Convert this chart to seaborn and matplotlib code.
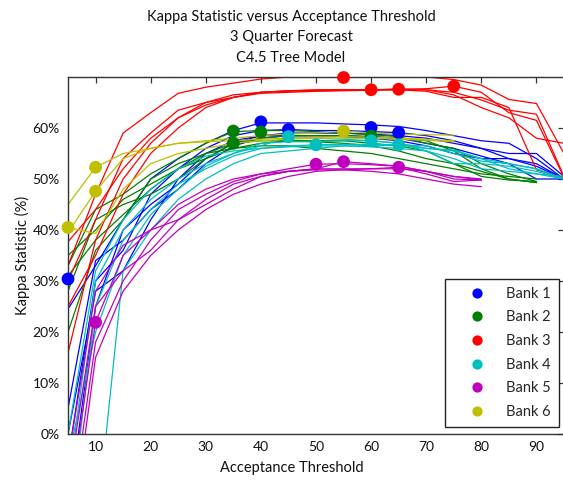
import numpy as np
import pandas as pd
import matplotlib
matplotlib.use("Agg")
import matplotlib.pyplot as plt
import seaborn as sns
from matplotlib.ticker import FuncFormatter, MultipleLocator

nan = np.nan
thresholds = [5, 10, 15, 20, 25, 30, 35, 40, 45, 50, 55, 60, 65, 70, 75, 80, 85, 90, 95]
bank_names = ["Bank 1", "Bank 2", "Bank 3", "Bank 4", "Bank 5", "Bank 6"]
bank_colors = ["#0000ff", "#008000", "#ff0000", "#00bfbf", "#bf00bf", "#bfbf00"]

bank1_runs = [
    [24.5, 33, 42, 50, 54, 57, 59.5, 61, 61, 61, 60.8, 60.6, 60.3, 59.5, 58.5, 57.5, 57, 54, 50],
    [-5, 30, 36, 47, 52, 56, 58.5, 59.5, 59.7, 59.5, 59.5, 59.3, 59.1, 58.5, 57.5, 56, 55, 55, 50.5],
    [-15, 25, 40, 45, 49, 54, 57, 58.5, 59, 59, 59, 58.8, 58.5, 58, 57, 56, 54, 53, 50],
    [0, 28, 32, 42, 50, 55, 57.5, 58.5, 58.5, 58.5, 58.5, 58.3, 58, 57, 56, 54.5, 53, 50, 50],
    [5, 34, 38, 44, 48, 53, 56.5, 58, 58.5, 58.5, 58.3, 58, 57.5, 56.5, 55, 54, 54, 52.5, 50],
]
bank2_runs = [
    [33, 44, 47, 51, 54, 57, 59.3, 59.5, 59.5, 59.3, 59, 58.7, 58.3, 57, 56, 53, 51, 49.5, nan],
    [35, 40, 46, 49, 52, 55, 57, 58, 58.5, 58.5, 58.5, 58.3, 58, 57.5, 55.5, 52, 50, 49.3, nan],
    [31, 38, 43, 48, 52, 54, 57, 57.5, 57.5, 57.3, 57, 56.5, 55.5, 54, 53, 51.5, 50, 49.3, nan],
    [28, 42, 45, 47, 50, 54, 56, 57, 57.5, 57.5, 57.5, 57, 56.5, 55.5, 53, 50.5, 49.8, 49.5, nan],
    [20, 36, 42, 50, 53, 55, 56, 56.5, 56.5, 56, 55.5, 55, 54, 53, 52, 51, 50.5, 50, nan],
]
bank3_runs = [
    [33, 47, 59, 63, 66.8, 68, 68.8, 69.6, 70, 70.2, 70.2, 70.2, 70.1, 70, 69.5, 68.4, 65.6, 64.8, 55],
    [15.9, 38, 50, 57, 62, 64.5, 66, 67, 67.3, 67.5, 67.5, 67.5, 67.6, 67.5, 66.5, 64, 62, 58, 57],
    [30, 42, 54, 59, 63.5, 65, 66.5, 67, 67.3, 67.4, 67.5, 67.5, 67.6, 67.7, 68.2, 67, 63, 61.5, 50.3],
    [25, 35, 47, 55, 60, 64, 66, 67, 67.2, 67.3, 67.4, 67.5, 67.5, 67.2, 66, 66, 64, 51.8, 50.2],
    [37.7, 44, 52, 58, 62, 65, 66, 66.8, 67, 67.2, 67.3, 67.4, 67.5, 67.5, 67, 65.5, 63.5, 62.7, 50.5],
]
bank4_runs = [
    [-10, 30, 40, 46, 50, 53, 55, 56.5, 58.3, 58, 57.8, 57.5, 57, 56, 55.5, 54, 53, 52, 50],
    [-20, 25, 38, 44, 49, 52, 54.5, 56, 56.5, 56.7, 56.8, 56.8, 56.7, 56, 55.7, 54, 52, 51, 50],
    [-5, 20, 35, 43, 48, 52.5, 55, 57, 57.3, 57.3, 57.5, 57.5, 57, 55.5, 53, 53, 52.5, 51.5, 50],
    [-40, -20, 32, 40, 46, 50, 53, 55, 55.5, 56, 56.5, 56.5, 56.7, 56.5, 55, 53.5, 53, 52, 50],
    [0, 32, 42, 48, 52, 54.5, 55.5, 56, 56.3, 56.5, 56.5, 56.3, 56, 55.5, 54, 52, 51.5, 51, 50.5],
]
bank5_runs = [
    [-15, 21.9, 35, 40, 45, 48, 50, 51, 52, 52.9, 53, 52.8, 52.5, 51.5, 50.5, 50, nan, nan, nan],
    [-20, 18, 30, 38, 44, 47, 49.5, 51, 51.5, 52, 53.4, 53, 52.5, 51.5, 50, 49.8, nan, nan, nan],
    [-10, 25, 32, 36, 42, 46, 49, 50.5, 51.5, 52, 52, 52, 52.3, 51, 49.5, 49.8, nan, nan, nan],
    [-25, 15, 28, 35, 40, 44, 47, 49, 50.5, 51.5, 51.8, 52, 52, 51.5, 50.5, 49.8, nan, nan, nan],
    [-5, 28, 37, 40, 42, 45, 48, 50.5, 51.5, 51.8, 51.8, 51.5, 51, 50, 49, 48.5, nan, nan, nan],
]
bank6_runs = [
    [45, 52.3, 55, 56, 57, 57.5, 58, 58.5, 58.8, 59, 59.4, 59, 58.8, 58.7, 58.6, nan, nan, nan, nan],
    [39.5, 47.6, 54, 56, 57, 57.3, 57.5, 57.8, 58, 58.2, 58.3, 58.2, 58, 57.8, 57.5, nan, nan, nan, nan],
    [40.5, 39.3, 48, 53, 55, 56, 57, 57.5, 57.8, 58, 58, 58, 57.8, 57.6, 57.3, nan, nan, nan, nan],
]

dot_x = {
    "Bank 1": [5, 40, 45, 60, 65],
    "Bank 2": [35, 35, 40, 60],
    "Bank 3": [55, 60, 65, 75],
    "Bank 4": [45, 50, 60, 65],
    "Bank 5": [10, 50, 55, 65],
    "Bank 6": [5, 10, 10, 55],
}
dot_y = {
    "Bank 1": [30.4, 61.2, 59.7, 60.1, 59.1],
    "Bank 2": [59.4, 57.0, 59.2, 58.4],
    "Bank 3": [69.9, 67.5, 67.6, 68.2],
    "Bank 4": [58.3, 56.7, 57.5, 56.7],
    "Bank 5": [21.9, 52.9, 53.4, 52.3],
    "Bank 6": [40.5, 47.6, 52.3, 59.4],
}

all_runs = [bank1_runs, bank2_runs, bank3_runs, bank4_runs, bank5_runs, bank6_runs]

rows = []
run_id = 0
for name, runs in zip(bank_names, all_runs):
    for ys in runs:
        for x, y in zip(thresholds, ys):
            if not np.isnan(y):
                rows.append({"bank": name, "run": run_id, "x": x, "y": y})
        run_id += 1
lines_df = pd.DataFrame(rows)

dot_rows = []
for name in bank_names:
    for x, y in zip(dot_x[name], dot_y[name]):
        dot_rows.append({"bank": name, "x": x, "y": y})
dots_df = pd.DataFrame(dot_rows)

palette = dict(zip(bank_names, bank_colors))

sns.set_theme(style="white")
plt.rcParams['font.family'] = ['Lato', 'DejaVu Sans']

fig = plt.figure(figsize=(5.63, 4.8), dpi=100)
ax = fig.add_axes([68 / 563, 46 / 480, 496 / 563, 357 / 480])

sns.lineplot(data=lines_df, x="x", y="y", hue="bank", units="run", estimator=None,
             palette=palette, hue_order=bank_names, linewidth=0.9, legend=False,
             sort=False, ax=ax)
sns.scatterplot(data=dots_df, x="x", y="y", hue="bank", palette=palette,
                hue_order=bank_names, s=85, edgecolor="none", linewidth=0,
                zorder=4, clip_on=False, ax=ax)

ax.set_xlim(5, 95)
ax.set_ylim(0, 70)
ax.xaxis.set_major_locator(MultipleLocator(10))
ax.yaxis.set_major_locator(plt.FixedLocator([0, 10, 20, 30, 40, 50, 60]))
ax.yaxis.set_major_formatter(FuncFormatter(lambda v, p: f"{v:.0f}%"))
ax.tick_params(direction="in", length=4, width=0.9, top=True, right=True,
               labelsize=10, color="#333333", labelcolor="#111111")
ax.tick_params(axis="y", pad=6)
ax.tick_params(axis="x", pad=5)
for s in ax.spines.values():
    s.set_color("#333333")
    s.set_linewidth(1.0)

ax.set_xlabel("Acceptance Threshold", fontsize=10.5, color="#111111")
ax.set_ylabel("Kappa Statistic (%)", fontsize=10.5, color="#111111")
ax.xaxis.set_label_coords((292 - 68) / 496, -(461 - 434) / 357)
ax.yaxis.set_label_coords(-(68 - 30) / 496, 0.5)

handles, labels = ax.get_legend_handles_labels()
leg = ax.legend(handles, labels, loc="lower right", bbox_to_anchor=(0.99, 0.0196),
                frameon=True, fancybox=False, edgecolor="#222222", framealpha=1,
                fontsize=10.5, labelspacing=0.66, handletextpad=0.35,
                borderpad=0.55, borderaxespad=0, handlelength=3.3, markerscale=0.8)
leg.get_frame().set_linewidth(1.0)

fig.text(291 / 563, 1 - 17 / 480, "Kappa Statistic versus Acceptance Threshold",
         ha="center", va="center", fontsize=10.5, color="#111111")
fig.text(291 / 563, 1 - 37.5 / 480, "3 Quarter Forecast",
         ha="center", va="center", fontsize=10.5, color="#111111")
fig.text(291 / 563, 1 - 57.5 / 480, "C4.5 Tree Model",
         ha="center", va="center", fontsize=10.5, color="#111111")

fig.savefig("out.png", dpi=100)
